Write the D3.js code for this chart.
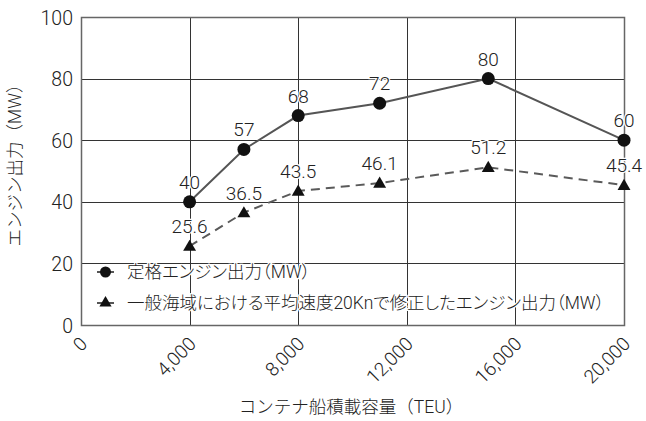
<!DOCTYPE html>
<html>
<head>
<meta charset="utf-8">
<script src="https://cdn.jsdelivr.net/npm/d3@7"></script>
<style>
  html, body { margin: 0; padding: 0; background: #fff; }
  svg { display: block; }
  text { font-family: Roboto, "Noto Sans CJK JP", sans-serif; font-weight: 300; fill: #222; }
  .legend text { font-feature-settings: "palt"; }
</style>
</head>
<body>
<svg id="chart" width="646" height="421"></svg>
<script>
// Container ship capacity (TEU) vs. engine output (MW)
const capacity = [4000, 6000, 8000, 11000, 15000, 20000];
const ratedOutput = [40, 57, 68, 72, 80, 60];
const correctedOutput = [25.6, 36.5, 43.5, 46.1, 51.2, 45.4];
const xTicks = [0, 4000, 8000, 12000, 16000, 20000];
const yTicks = [0, 20, 40, 60, 80, 100];
const seriesNames = [
  "定格エンジン出力（MW）",
  "一般海域における平均速度20Knで修正したエンジン出力（MW）"
];
const xTitle = "コンテナ船積載容量（TEU）";
const yTitle = "エンジン出力（MW）";

const svg = d3.select("#chart");
const margin = { left: 81, right: 22, top: 17, bottom: 96 };
const W = 646, H = 421;

const x = d3.scaleLinear().domain([0, 20000]).range([margin.left, W - margin.right]);
const y = d3.scaleLinear().domain([0, 100]).range([H - margin.bottom, margin.top]);

// grid
const grid = svg.append("g");
grid.selectAll("line.v").data(xTicks.slice(1, -1)).join("line")
  .attr("x1", d => Math.round(x(d)) + 0.5).attr("x2", d => Math.round(x(d)) + 0.5)
  .attr("y1", y(0)).attr("y2", y(100))
  .attr("stroke", "#333").attr("stroke-width", 1);
grid.selectAll("line.h").data(yTicks.slice(1, -1)).join("line")
  .attr("y1", d => Math.round(y(d)) + 0.5).attr("y2", d => Math.round(y(d)) + 0.5)
  .attr("x1", x(0)).attr("x2", x(20000))
  .attr("stroke", "#333").attr("stroke-width", 1);

// frame
svg.append("rect")
  .attr("x", Math.round(x(0)) + 0.5).attr("y", Math.round(y(100)) + 0.5)
  .attr("width", Math.round(x(20000)) - Math.round(x(0)))
  .attr("height", Math.round(y(0)) - Math.round(y(100)))
  .attr("fill", "none").attr("stroke", "#666").attr("stroke-width", 1.5);

// y axis
const yAxis = svg.append("g")
  .attr("transform", `translate(${x(0)},0)`)
  .call(d3.axisLeft(y).tickValues(yTicks).tickSize(0).tickPadding(8));
yAxis.select(".domain").remove();
yAxis.selectAll("text").style("font-size", "19.5px").attr("fill", "#222").attr("dy", "0.36em");

// x axis, rotated labels
const xAxis = svg.append("g")
  .attr("transform", `translate(0,${y(0)})`)
  .call(d3.axisBottom(x).tickValues(xTicks).tickSize(0).tickFormat(d3.format(",")));
xAxis.select(".domain").remove();
xAxis.selectAll("text")
  .style("font-size", "19px").attr("fill", "#222")
  .attr("text-anchor", "end")
  .attr("y", 0).attr("dy", "0")
  .attr("transform", "translate(7,20) rotate(-45)");

// axis titles
svg.append("text")
  .attr("transform", `translate(21,${161}) rotate(-90)`)
  .attr("text-anchor", "middle")
  .style("font-size", "17.5px")
  .text(yTitle);
svg.append("text")
  .attr("x", 351).attr("y", 413)
  .attr("text-anchor", "middle")
  .style("font-size", "17.5px")
  .text(xTitle);

const lineColor = "#555";
const rated = capacity.map((c, i) => ({ c, v: ratedOutput[i] }));
const corrected = capacity.map((c, i) => ({ c, v: correctedOutput[i] }));
const line = d3.line().x(d => x(d.c)).y(d => y(d.v));

svg.append("path").datum(corrected).attr("d", line)
  .attr("fill", "none").attr("stroke", "#5a5a5a").attr("stroke-width", 2)
  .attr("stroke-dasharray", "9,6");
svg.append("path").datum(rated).attr("d", line)
  .attr("fill", "none").attr("stroke", lineColor).attr("stroke-width", 2);

const tri = d3.symbol().type(d3.symbolTriangle).size(72);
svg.selectAll("path.tri").data(corrected).join("path")
  .attr("class", "tri")
  .attr("d", tri)
  .attr("transform", d => `translate(${x(d.c)},${y(d.v) + 1})`)
  .attr("fill", "#111");
svg.selectAll("circle.pt").data(rated).join("circle")
  .attr("class", "pt")
  .attr("cx", d => x(d.c)).attr("cy", d => y(d.v)).attr("r", 6.5)
  .attr("fill", "#111");

// value labels
function labels(data, fmt, dy) {
  svg.append("g").selectAll("text").data(data).join("text")
    .attr("x", d => x(d.c)).attr("y", d => y(d.v) + dy)
    .attr("text-anchor", "middle")
    .style("font-size", "19px")
    .attr("stroke", "#fff").attr("stroke-width", 2.5)
    .attr("paint-order", "stroke")
    .text(d => fmt(d.v));
}
labels(rated, d3.format("d"), -13);
labels(corrected, d3.format(".1f"), -13);

// legend
const legend = svg.append("g").attr("class", "legend");
seriesNames.forEach((name, i) => {
  const ly = 272 + i * 31;
  legend.append("line")
    .attr("x1", 97).attr("x2", 114).attr("y1", ly).attr("y2", ly)
    .attr("stroke", lineColor).attr("stroke-width", 2);
  if (i === 0) {
    legend.append("circle").attr("cx", 105.5).attr("cy", ly).attr("r", 5.5).attr("fill", "#111");
  } else {
    legend.append("path").attr("d", d3.symbol().type(d3.symbolTriangle).size(64)())
      .attr("transform", `translate(105.5,${ly})`).attr("fill", "#111");
  }
  legend.append("text")
    .attr("x", 127).attr("y", ly).attr("dy", "0.36em")
    .style("font-size", "17.5px")
    .attr("stroke", "#fff").attr("stroke-width", 2.5).attr("paint-order", "stroke")
    .text(name);
});
</script>
</body>
</html>
